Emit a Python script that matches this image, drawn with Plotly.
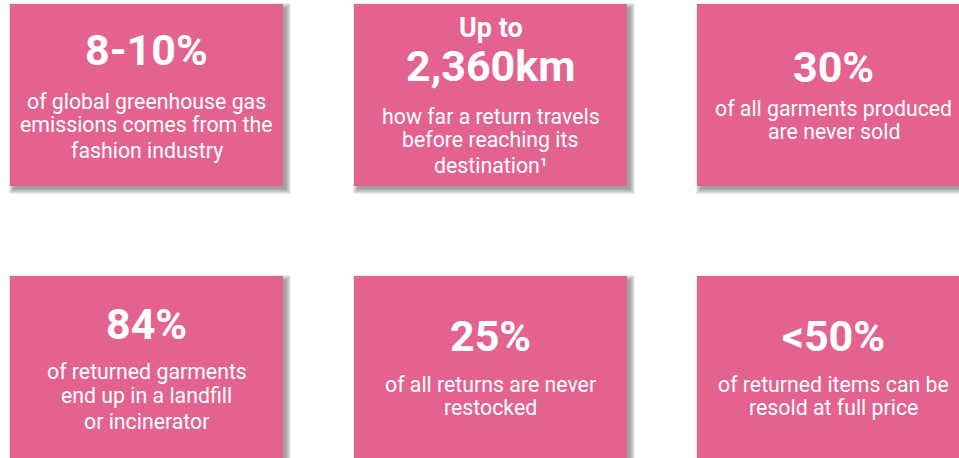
"""Six pink stat cards about fashion returns, drawn on a pixel-sized Plotly canvas."""

import plotly.graph_objects as go

W, H = 959, 458
PINK = "#E4628F"
FONT = "Roboto"

# ─── Data ────────────────────────────────────────────────────────────────────

kickers = ["", "Up to", "", "", "", ""]
headlines = ["8-10%", "2,360km", "30%", "84%", "25%", "<50%"]
captions = [
    ["of global greenhouse gas", "emissions comes from the", "fashion industry"],
    ["how far a return travels", "before reaching its", "destination¹"],
    ["of all garments produced", "are never sold"],
    ["of returned garments", "end up in a landfill", "or incinerator"],
    ["of all returns are never", "restocked"],
    ["of returned items can be", "resold at full price"],
]

# ─── Layout (pixels) ─────────────────────────────────────────────────────────

col_x = [10, 354, 697]
row_y = [4, 276]
box_w, box_h = 273, 182
kicker_y = [None, 28, None, None, None, None]
head_y = [50, 66, 67, 324, 336, 336]
line_y = [
    [101, 124, 150],
    [116, 139, 165],
    [108, 131],
    [371, 395, 421],
    [384, 407],
    [384, 407],
]

fig = go.Figure()
shapes, annotations = [], []

for i in range(len(headlines)):
    x0 = col_x[i % 3]
    y0 = row_y[i // 3]
    x1, y1 = x0 + box_w, y0 + box_h
    cx = x0 + box_w / 2

    # soft drop shadow: stacked translucent rects, offset down-right
    for e in range(6):
        shapes.append(dict(type="rect", xref="x", yref="y",
                           x0=x0 + 4 - e, x1=x1 + 3 + e,
                           y0=y0 + 4 - e, y1=y1 + 3 + e,
                           line_width=0, fillcolor="rgba(40,40,40,0.09)"))
    shapes.append(dict(type="rect", xref="x", yref="y", x0=x0, x1=x1, y0=y0, y1=y1,
                       line_width=0, fillcolor=PINK))

    if kickers[i]:
        annotations.append(dict(x=cx, y=kicker_y[i], text=f"<b>{kickers[i]}</b>",
                                showarrow=False, xanchor="center", yanchor="middle",
                                font=dict(family=FONT, size=27, color="white")))
    annotations.append(dict(x=cx, y=head_y[i], text=f"<b>{headlines[i]}</b>",
                            showarrow=False, xanchor="center", yanchor="middle",
                            font=dict(family=FONT, size=43, color="white")))
    for txt, ly in zip(captions[i], line_y[i]):
        annotations.append(dict(x=cx, y=ly, text=txt, showarrow=False,
                                xanchor="center", yanchor="middle",
                                font=dict(family=FONT, size=21.3, color="white")))

fig.update_layout(
    width=W, height=H, margin=dict(t=0, b=0, l=0, r=0),
    paper_bgcolor="white", plot_bgcolor="white",
    xaxis=dict(range=[0, W], visible=False, fixedrange=True),
    yaxis=dict(range=[H, 0], visible=False, fixedrange=True),
    shapes=shapes, annotations=annotations, showlegend=False,
)

# drop the default page margin so the canvas sits flush in the window
fig.write_html("out.html", config={"displayModeBar": False},
               post_script="document.body.style.margin='0';document.body.style.overflow='hidden';")
